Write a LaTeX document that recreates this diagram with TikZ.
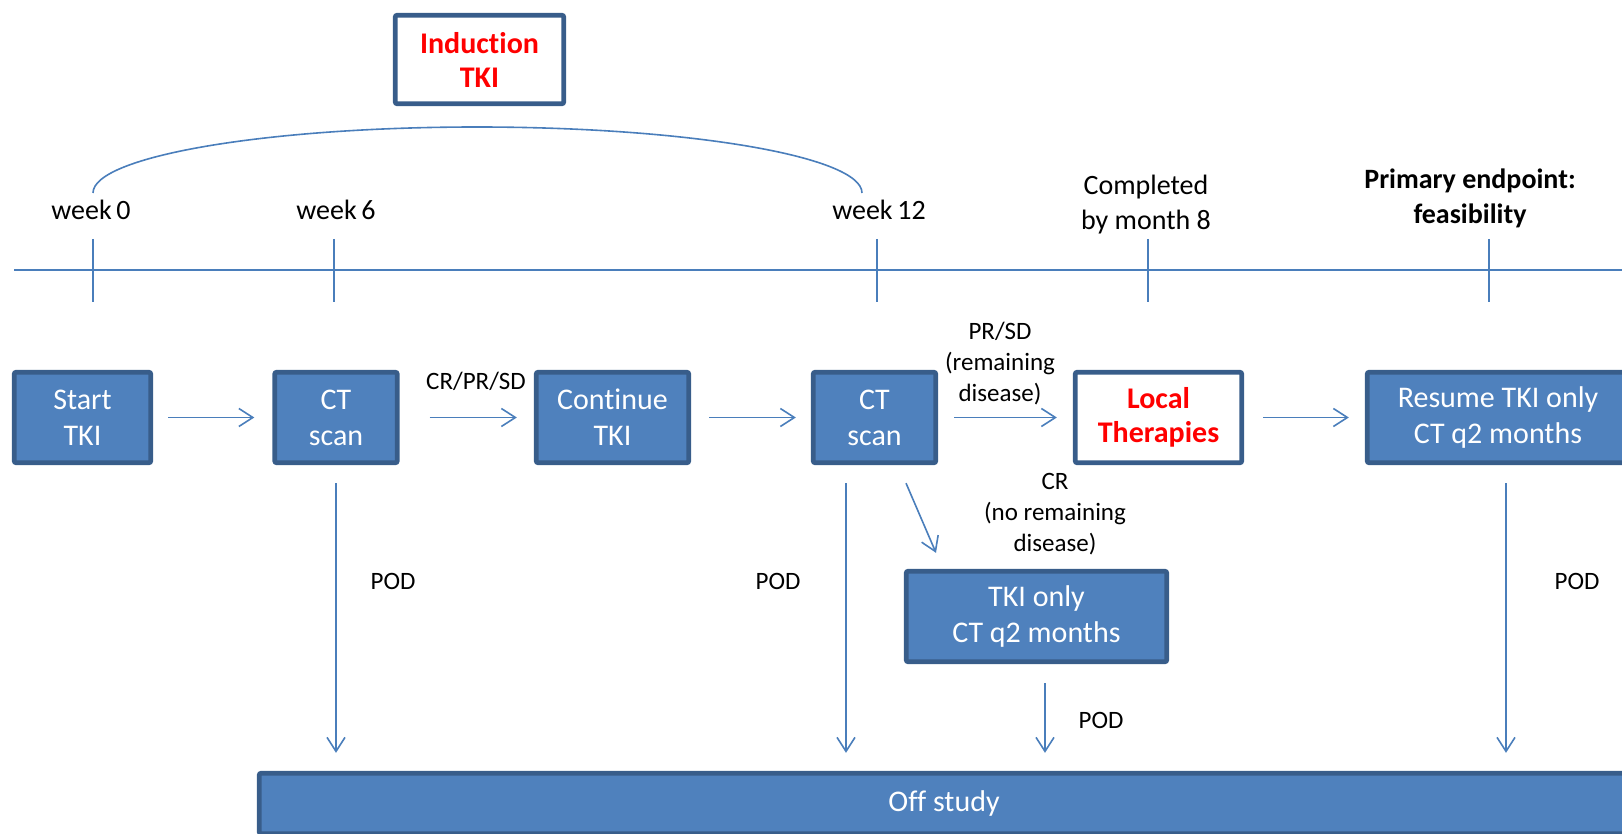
\documentclass[tikz,border=0pt]{standalone}
\usepackage{fontspec}
\setmainfont{Carlito}[Ligatures=NoCommon]
\usetikzlibrary{arrows.meta}
\definecolor{boxblue}{HTML}{4F81BD}
\definecolor{boxedge}{HTML}{385D8A}
\definecolor{linkblue}{HTML}{4A7EBB}
\definecolor{pptred}{HTML}{FF0000}
\tikzset{
  box/.style={draw=boxedge, fill=boxblue, line width=2.4pt, rounded corners=1pt,
    text=white, align=center, inner sep=0pt, minimum height=45.25pt,
    font=\fontsize{15}{18}\selectfont},
  whitebox/.style={box, fill=white, text=pptred, font=\fontsize{15}{17}\selectfont\bfseries},
  arr/.style={draw=linkblue, line width=0.8pt, -{Straight Barb[length=7pt,width=9pt,line width=0.8pt]}},
  tl/.style={draw=linkblue, line width=0.8pt},
  lbl/.style={align=center, inner sep=0pt, font=\fontsize{12.5}{15.5}\selectfont},
  wk/.style={align=center, inner sep=0pt, font=\fontsize{14}{17.5}\selectfont},
}
\begin{document}
\begin{tikzpicture}[x=0.5pt,y=-0.5pt]
\useasboundingbox (0,0) rectangle (1622,834);
\clip (0,0) rectangle (1622,834);

% timeline
\coordinate (tlL) at (14,270);
\coordinate (tlR) at (1622,270);
\draw[tl] (tlL) -- (tlR);
\foreach \n/\x in {t0/93, t6/334, t12/877, t8m/1148, tpe/1489}{
  \coordinate (\n top) at (\x,239);
  \coordinate (\n bot) at (\x,302);
  \draw[tl] (\n top) -- (\n bot);
}

% time labels
\node[wk] (w0) at (91,210) {week\,0};
\node[wk] (w6) at (336,210) {week\,6};
\node[wk] (w12) at (879,210) {week\,12};
\node[wk] (m8) at (1146,205) {Completed\\by month 8};
\node[wk, font=\fontsize{14}{17.5}\selectfont\bfseries] (pe) at (1470,198) {Primary endpoint:\\feasibility};

% induction bracket
\node[whitebox, minimum width=84.25pt, minimum height=44.25pt] (ind) at (479.5,59.5) {Induction\\TKI};
\coordinate (a0) at (93,193);
\coordinate (a1) at (862,193);
\coordinate (atop) at (477,127);
\draw[tl] (a0) .. controls (93,156.6) and (265,127) .. (atop)
               .. controls (689,127) and (862,156.6) .. (a1);

% main row
\node[box, minimum width=68.25pt] (start) at (82.5,417.5) {Start\\TKI};
\node[box, minimum width=61.25pt] (ct1) at (336,417.5) {CT\\scan};
\node[box, minimum width=76.25pt] (cont) at (612.5,417.5) {Continue\\TKI};
\node[box, minimum width=61.25pt] (ct2) at (874.5,417.5) {CT\\scan};
\node[whitebox, minimum width=83.25pt, minimum height=45.25pt] (local) at (1158.5,417.5) {Local\\Therapies};
\node[box, minimum width=130.75pt] (resume) at (1498,417.5) {Resume TKI only\\CT q2 months};
\node[box, minimum width=130.25pt] (tkionly) at (1036.5,616.5) {TKI only\\CT q2 months};
\node[box, minimum width=684.75pt, minimum height=30.25pt] (off) at (944,803.5) {Off study};

% horizontal arrows
\draw[arr] ([xshift=7.5pt]start.east) -- ([xshift=-9pt]ct1.west);
\draw[arr] ([xshift=15pt]ct1.east) -- ([xshift=-8.5pt]cont.west);
\draw[arr] ([xshift=9pt]cont.east) -- ([xshift=-7.5pt]ct2.west);
\draw[arr] ([xshift=8pt]ct2.east) -- ([xshift=-8pt]local.west);
\draw[arr] ([xshift=9.5pt]local.east) -- ([xshift=-8pt]resume.west);

% vertical arrows
\draw[arr] ([yshift=-9pt]ct1.south) -- ([yshift=9pt]ct1.south |- off.north);
\draw[arr] ([xshift=-14.25pt,yshift=-9pt]ct2.south) -- ([xshift=-14.25pt,yshift=9pt]ct2.south |- off.north);
\draw[arr] ([xshift=15.75pt,yshift=-9pt]ct2.south) -- ([xshift=-50.25pt,yshift=8pt]tkionly.north);
\draw[arr] ([xshift=4.25pt,yshift=-9.5pt]tkionly.south) -- ([xshift=4.25pt,yshift=9pt]tkionly.south |- off.north);
\draw[arr] ([xshift=4pt,yshift=-9pt]resume.south) -- ([xshift=4pt,yshift=9pt]resume.south |- off.north);

% labels
\node[lbl] (l1) at (476,381) {CR/PR/SD};
\node[lbl] (l2) at (1000,364) {PR/SD\\(remaining\\disease)};
\node[lbl] (l3) at (1055,514) {CR\\(no remaining\\disease)};
\node[lbl] (p1) at (393,581) {POD};
\node[lbl] (p2) at (778,581) {POD};
\node[lbl] (p3) at (1101,720) {POD};
\node[lbl] (p4) at (1577,581) {POD};
\end{tikzpicture}
\end{document}
